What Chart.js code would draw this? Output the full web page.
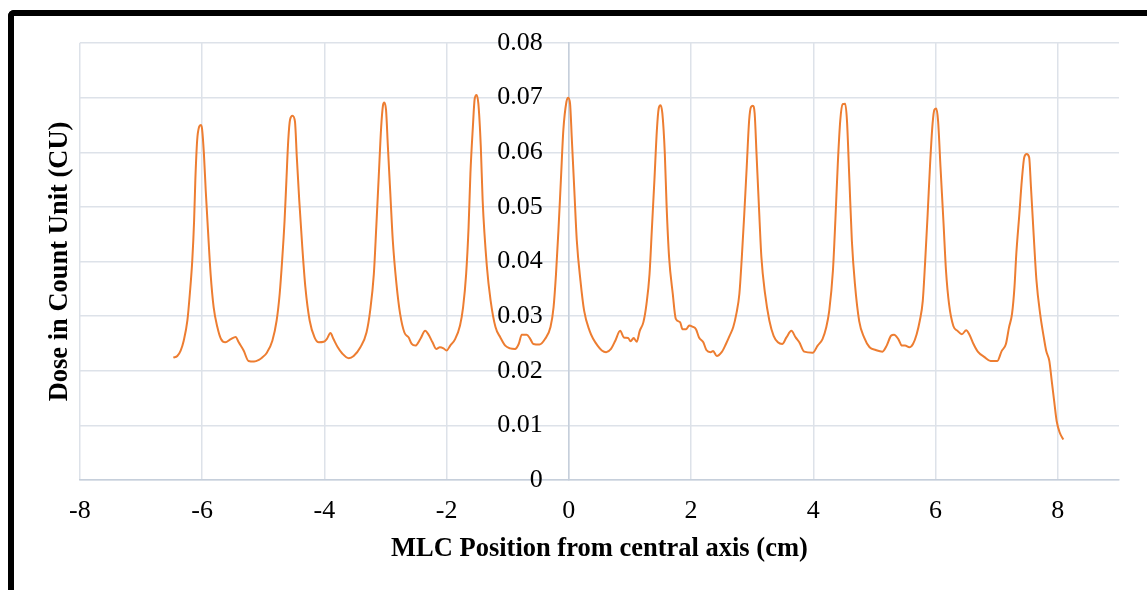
<!DOCTYPE html>
<html>
<head>
<meta charset="utf-8">
<script src="https://cdn.jsdelivr.net/npm/chart.js@4/dist/chart.umd.min.js"></script>
<style>
  html, body { margin: 0; padding: 0; width: 1147px; height: 590px; overflow: hidden; background: #fff; }
  #frame { position: absolute; left: 8px; top: 10px; width: 1400px; height: 900px;
           border-left: 6px solid #000; border-top: 6px solid #000; border-top-left-radius: 6px; }
  #wrap { position: absolute; left: 0; top: 0; width: 1147px; height: 590px; }
</style>
</head>
<body>
<div id="frame"></div>
<div id="wrap"><canvas id="c" width="1147" height="590"></canvas></div>
<script>
// MLC position from central axis (cm)
const positions = [
  -6.47,-6.405,-6.35,-6.30,-6.24,-6.20,-6.16,-6.13,-6.11,-6.08,-6.05,-6.02,-6.00,-5.97,-5.94,-5.90,-5.86,-5.81,-5.75,-5.69,
  -5.62,-5.53,-5.45,-5.40,-5.32,-5.24,-5.15,-5.07,-5.02,-4.94,-4.85,-4.78,-4.73,-4.69,-4.65,-4.62,-4.59,-4.56,-4.52,-4.48,
  -4.45,-4.41,-4.36,-4.31,-4.24,-4.16,-4.09,-4.01,-3.96,-3.90,-3.85,-3.78,-3.71,-3.60,-3.52,-3.41,-3.31,-3.25,-3.19,-3.15,
  -3.11,-3.07,-3.04,-3.02,-2.99,-2.96,-2.92,-2.88,-2.82,-2.76,-2.69,-2.62,-2.57,-2.51,-2.43,-2.35,-2.30,-2.23,-2.17,-2.11,
  -2.05,-2.00,-1.94,-1.86,-1.78,-1.73,-1.68,-1.64,-1.61,-1.57,-1.54,-1.51,-1.48,-1.44,-1.41,-1.34,-1.28,-1.20,-1.12,-1.04,
  -0.96,-0.88,-0.82,-0.77,-0.69,-0.63,-0.58,-0.48,-0.39,-0.30,-0.25,-0.21,-0.17,-0.13,-0.09,-0.04,-0.01,0.02,0.05,0.09,
  0.13,0.19,0.25,0.34,0.40,0.47,0.54,0.61,0.69,0.76,0.84,0.90,0.97,1.01,1.06,1.11,1.16,1.22,1.27,1.32,
  1.36,1.40,1.44,1.47,1.50,1.53,1.57,1.60,1.64,1.70,1.75,1.82,1.86,1.92,1.97,2.02,2.08,2.13,2.20,2.25,
  2.32,2.36,2.42,2.50,2.57,2.63,2.69,2.74,2.79,2.83,2.87,2.91,2.95,2.98,3.01,3.04,3.07,3.11,3.15,3.21,
  3.28,3.35,3.42,3.49,3.56,3.64,3.71,3.77,3.85,3.99,4.07,4.15,4.21,4.26,4.32,4.36,4.40,4.44,4.48,4.52,
  4.55,4.59,4.63,4.68,4.75,4.83,4.92,5.02,5.13,5.20,5.27,5.32,5.39,5.45,5.50,5.57,5.63,5.69,5.74,5.79,
  5.83,5.87,5.91,5.95,5.98,6.01,6.04,6.08,6.13,6.17,6.22,6.29,6.36,6.43,6.50,6.55,6.62,6.69,6.80,6.90,
  7.01,7.08,7.15,7.20,7.25,7.29,7.32,7.37,7.41,7.45,7.49,7.53,7.56,7.60,7.65,7.71,7.77,7.81,7.86,7.90,
  7.94,7.98,8.03,8.09
];
// Dose in Count Unit (CU)
const dose = [
  0.0224,0.0227,0.0237,0.0255,0.0292,0.0341,0.0402,0.0475,0.0549,0.0622,0.0646,0.0650,0.0643,0.0598,0.0530,0.0451,0.0377,0.0316,0.0280,0.0258,
  0.0252,0.0258,0.0262,0.0252,0.0237,0.0218,0.0217,0.0220,0.0224,0.0233,0.0255,0.0292,0.0341,0.0402,0.0475,0.0549,0.0622,0.0660,0.0667,0.0656,
  0.0591,0.0512,0.0426,0.0353,0.0292,0.0261,0.0252,0.0253,0.0258,0.0269,0.0258,0.0243,0.0232,0.0223,0.0227,0.0243,0.0270,0.0310,0.0377,0.0463,
  0.0555,0.0646,0.0686,0.0691,0.0677,0.0610,0.0524,0.0439,0.0359,0.0304,0.0270,0.0261,0.0249,0.0246,0.0258,0.0273,0.0267,0.0252,0.0240,0.0243,
  0.0241,0.0237,0.0246,0.0258,0.0283,0.0316,0.0377,0.0463,0.0561,0.0646,0.0698,0.0705,0.0689,0.0610,0.0512,0.0390,0.0329,0.0280,0.0261,0.0246,
  0.0241,0.0240,0.0249,0.0266,0.0266,0.0258,0.0249,0.0248,0.0258,0.0280,0.0316,0.0377,0.0457,0.0549,0.0640,0.0692,0.0700,0.0689,0.0622,0.0530,
  0.0439,0.0365,0.0310,0.0273,0.0258,0.0246,0.0237,0.0234,0.0240,0.0255,0.0273,0.0261,0.0260,0.0254,0.0260,0.0253,0.0273,0.0289,0.0322,0.0377,
  0.0463,0.0549,0.0640,0.0680,0.0686,0.0671,0.0598,0.0500,0.0408,0.0341,0.0295,0.0289,0.0276,0.0276,0.0283,0.0281,0.0276,0.0261,0.0252,0.0238,
  0.0234,0.0236,0.0227,0.0234,0.0249,0.0264,0.0280,0.0304,0.0341,0.0408,0.0487,0.0573,0.0659,0.0683,0.0685,0.0671,0.0598,0.0500,0.0408,0.0341,
  0.0292,0.0264,0.0252,0.0249,0.0261,0.0273,0.0261,0.0252,0.0235,0.0233,0.0246,0.0258,0.0279,0.0310,0.0383,0.0475,0.0579,0.0658,0.0688,0.0689,
  0.0658,0.0548,0.0438,0.0359,0.0291,0.0261,0.0243,0.0238,0.0235,0.0246,0.0264,0.0266,0.0258,0.0246,0.0246,0.0243,0.0249,0.0267,0.0291,0.0328,
  0.0402,0.0487,0.0579,0.0652,0.0678,0.0680,0.0658,0.0573,0.0469,0.0383,0.0322,0.0282,0.0273,0.0267,0.0274,0.0267,0.0249,0.0235,0.0225,0.0218,
  0.0218,0.0236,0.0249,0.0279,0.0304,0.0353,0.0414,0.0487,0.0548,0.0591,0.0597,0.0591,0.0536,0.0457,0.0365,0.0304,0.0261,0.0236,0.0218,0.0181,
  0.0144,0.0108,0.0087,0.0074
];
const xTickValues = [-8, -6, -4, -2, 0, 2, 4, 6, 8];
const yTickValues = [0, 0.01, 0.02, 0.03, 0.04, 0.05, 0.06, 0.07, 0.08];
const yTickLabels = ['0', '0.01', '0.02', '0.03', '0.04', '0.05', '0.06', '0.07', '0.08'];
const xTitle = 'MLC Position from central axis (cm)';
const yTitle = 'Dose in Count Unit (CU)';

const points = positions.map((x, i) => ({ x: x, y: dose[i] }));
const FONT = 'Liberation Serif';
const gridColor = '#dde2e9';
const axisColor = '#c6cfdb';
const LABEL_GAP = '    '; // spacing between y labels and the central axis line

new Chart(document.getElementById('c'), {
  type: 'line',
  data: {
    datasets: [{
      data: points,
      borderColor: '#ED7D31',
      borderWidth: 2,
      pointRadius: 0,
      fill: false,
      cubicInterpolationMode: 'monotone'
    }]
  },
  options: {
    responsive: false,
    animation: false,
    devicePixelRatio: 1,
    layout: { padding: { left: 40, right: 28, top: 43, bottom: 20.5 } },
    plugins: { legend: { display: false }, tooltip: { enabled: false } },
    scales: {
      x: {
        type: 'linear',
        position: 'bottom',
        min: -8, max: 9,
        afterBuildTicks: (s) => { s.ticks = xTickValues.map(v => ({ value: v })); },
        ticks: { font: { family: FONT, size: 26 }, color: '#000', padding: 16,
                 callback: (v) => String(v) },
        grid: { color: gridColor, lineWidth: 1.5, drawTicks: false },
        border: { color: axisColor, width: 1.5 },
        title: { display: true, text: xTitle, color: '#000',
                 font: { family: FONT, size: 26.5, weight: 'bold' }, padding: { top: -9.5, bottom: 4 } }
      },
      y: {
        type: 'linear',
        position: { x: 0 },
        min: 0, max: 0.08,
        afterBuildTicks: (s) => { s.ticks = yTickValues.map(v => ({ value: v })); },
        ticks: { font: { family: FONT, size: 26 }, color: '#000', padding: 0,
                 callback: (v, i) => yTickLabels[i] + LABEL_GAP },
        grid: { color: gridColor, lineWidth: 1.5, drawTicks: false },
        border: { color: axisColor, width: 1.5 }
      },
      yTitleAxis: {
        type: 'linear',
        position: 'left',
        ticks: { display: false },
        grid: { display: false, drawTicks: false },
        border: { display: false },
        title: { display: true, text: yTitle, color: '#000',
                 font: { family: FONT, size: 26.5, weight: 'bold' }, padding: { top: 4, bottom: 4 } }
      }
    }
  }
});
</script>
</body>
</html>
